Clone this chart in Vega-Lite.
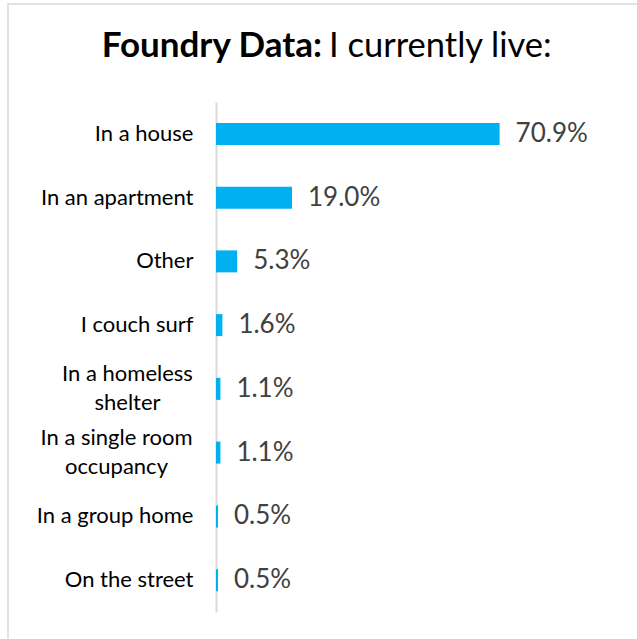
{
  "$schema": "https://vega.github.io/schema/vega-lite/v6.json",
  "width": 400,
  "height": 510,
  "autosize": {"type": "none"},
  "padding": {"left": 216, "top": 102, "right": 21, "bottom": 27},
  "background": "white",
  "config": {"view": {"stroke": null}, "font": "Lato"},
  "resolve": {"scale": {"y": "independent"}},
  "layer": [
    {
      "data": {
        "values": [
          {"place": "In a house", "share": 0.709},
          {"place": "In an apartment", "share": 0.19},
          {"place": "Other", "share": 0.053},
          {"place": "I couch surf", "share": 0.016},
          {"place": "In a homeless shelter", "share": 0.011},
          {"place": "In a single room occupancy", "share": 0.011},
          {"place": "In a group home", "share": 0.005},
          {"place": "On the street", "share": 0.005}
        ]
      },
      "encoding": {
        "y": {
          "field": "place",
          "type": "nominal",
          "sort": null,
          "scale": {"paddingInner": 0, "paddingOuter": 0},
          "axis": {
            "title": null,
            "ticks": false,
            "domainColor": "#d9d9d9",
            "domainWidth": 2,
            "labelFont": "Lato",
            "labelFontSize": 22,
            "labelColor": "#000000",
            "labelLineHeight": 29,
            "labelLimit": 300,
            "labelAlign": {"condition": {"test": "indexof(datum.value, 'homeless') >= 0 || indexof(datum.value, 'single') >= 0", "value": "center"}, "value": "right"},
            "labelPadding": {"condition": [
              {"test": "indexof(datum.value, 'homeless') >= 0", "value": 89},
              {"test": "indexof(datum.value, 'single') >= 0", "value": 100}
            ], "value": 23},
            "labelOffset": {"condition": {"test": "indexof(datum.value, 'homeless') >= 0 || indexof(datum.value, 'single') >= 0", "value": -15}, "value": 0},
            "labelExpr": "datum.value == 'In a homeless shelter' ? ['In a homeless', 'shelter'] : datum.value == 'In a single room occupancy' ? ['In a single room', 'occupancy'] : datum.value"
          }
        },
        "x": {
          "field": "share",
          "type": "quantitative",
          "scale": {"domain": [0, 1], "nice": false, "zero": true},
          "axis": null
        }
      },
      "layer": [
        {"mark": {"type": "bar", "color": "#00B0F0", "size": 22}},
        {
          "mark": {
            "type": "text",
            "align": "left",
            "baseline": "middle",
            "dx": 16,
            "font": "Lato",
            "fontSize": 26,
            "color": "#404040"
          },
          "encoding": {"text": {"field": "share", "type": "quantitative", "format": ".1%"}}
        }
      ]
    },
    {
      "data": {
        "values": [
          {"kind": "border", "x0": -0.52, "x1": 1.1, "y0": 1.192, "y1": -0.3},
          {"kind": "bold", "label": "Foundry Data:", "tx": 0.265, "ty": 1.088},
          {"kind": "normal", "label": "I currently live:", "tx": 0.2825, "ty": 1.088}
        ]
      },
      "layer": [
        {
          "transform": [{"filter": "datum.kind == 'border'"}],
          "mark": {"type": "rect", "fillOpacity": 0, "stroke": "#d9d9d9", "strokeWidth": 1.5},
          "encoding": {
            "x": {"field": "x0", "type": "quantitative", "scale": {"domain": [0, 1], "nice": false}, "axis": null},
            "x2": {"field": "x1"},
            "y": {"field": "y0", "type": "quantitative", "scale": {"domain": [0, 1], "nice": false, "zero": false}, "axis": null},
            "y2": {"field": "y1"}
          }
        },
        {
          "transform": [{"filter": "datum.kind == 'bold'"}],
          "mark": {"type": "text", "align": "right", "baseline": "alphabetic", "font": "Lato", "fontSize": 35, "fontWeight": "bold", "color": "#000000"},
          "encoding": {
            "x": {"field": "tx", "type": "quantitative", "scale": {"domain": [0, 1], "nice": false}, "axis": null},
            "y": {"field": "ty", "type": "quantitative", "scale": {"domain": [0, 1], "nice": false, "zero": false}, "axis": null},
            "text": {"field": "label"}
          }
        },
        {
          "transform": [{"filter": "datum.kind == 'normal'"}],
          "mark": {"type": "text", "align": "left", "baseline": "alphabetic", "font": "Lato", "fontSize": 34.5, "color": "#000000"},
          "encoding": {
            "x": {"field": "tx", "type": "quantitative", "scale": {"domain": [0, 1], "nice": false}, "axis": null},
            "y": {"field": "ty", "type": "quantitative", "scale": {"domain": [0, 1], "nice": false, "zero": false}, "axis": null},
            "text": {"field": "label"}
          }
        }
      ]
    }
  ]
}
